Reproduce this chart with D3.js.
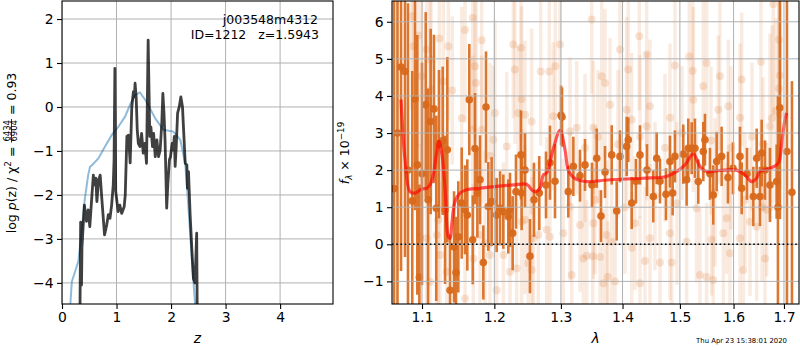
<!DOCTYPE html>
<html>
<head>
<meta charset="utf-8">
<script src="https://cdn.jsdelivr.net/npm/d3@7"></script>
<style>
body { margin: 0; background: #fff; }
svg { font-family: "DejaVu Sans", sans-serif; }
</style>
</head>
<body>
<script>
// ---- left panel: log p(z) ----
var pzZ   = [0.330,0.342,0.358,0.366,0.41,0.45,0.48,0.51,0.545,0.575,0.59,0.62,0.64,0.67,0.70,0.73,0.78,0.82,0.85,0.88,0.91,0.94,0.955,0.97,0.985,1.03,1.06,1.095,1.14,1.16,1.19,1.22,1.25,1.28,1.31,1.33,1.34,1.36,1.38,1.40,1.43,1.46,1.49,1.52,1.55,1.58,1.61,1.63,1.66,1.68,1.71,1.74,1.77,1.80,1.83,1.85,1.87,1.89,1.92,1.94,1.97,1.99,2.02,2.04,2.06,2.075,2.095,2.12,2.15,2.18,2.21,2.23,2.26,2.29,2.30,2.32,2.35,2.38,2.41,2.44,2.47,2.48];
var pzLog = [-4.6,-2.62,-4.05,-3.2,-2.23,-2.6,-2.34,-2.72,-2.08,-1.55,-1.77,-1.62,-2.15,-1.66,-1.55,-2.08,-2.91,-2.68,-2.45,-2.53,-2.23,-1.77,-1.2,0.88,-1.92,-2.38,-2.23,-2.42,-2.27,-2.0,-0.67,-0.64,-1.27,0.0,0.35,0.23,0.54,0.23,-0.52,-0.83,-0.9,-0.6,-1.05,-0.83,-1.28,1.52,-0.67,-0.45,-0.9,-0.6,-1.13,-0.75,-1.13,-0.98,-0.37,0.31,-0.14,-0.75,-2.30,-1.77,-1.2,-1.13,-0.83,-0.98,-0.67,-1.35,-0.9,-0.14,0.0,0.23,0.0,-0.52,-1.28,-1.32,-1.85,-1.47,-2.45,-3.2,-3.9,-4.0,-2.87,-4.7];
var priorZ   = [0.147,0.18,0.24,0.30,0.36,0.42,0.48,0.514,0.545,0.667,0.789,0.911,1.034,1.156,1.248,1.339,1.43,1.55,1.71,1.86,2.04,2.17,2.26,2.32,2.38,2.44,2.45];
var priorLog = [-4.6,-3.97,-3.74,-3.51,-2.83,-2.08,-1.55,-1.36,-1.33,-1.17,-0.9,-0.64,-0.45,-0.22,0.05,0.27,0.33,0.12,-0.26,-0.52,-0.56,-0.75,-1.28,-2.30,-3.44,-4.46,-4.7];
var zTicks = [0, 1, 2, 3, 4];
var pTicks = [-4, -3, -2, -1, 0, 1, 2];
var objName = "j003548m4312";
var objInfo = "ID=1212   z=1.5943";

// ---- right panel: spectrum ----
var specLam  = [1.0636,1.068,1.0726,1.0777,1.0816,1.0872,1.0908,1.0938,1.0965,1.1,1.1049,1.108,1.1115,1.1159,1.119,1.1227,1.1277,1.1309,1.134,1.1377,1.1432,1.1459,1.1491,1.1538,1.1584,1.1616,1.1644,1.1692,1.1724,1.1757,1.1795,1.1842,1.188,1.1913,1.1961,1.2033,1.2082,1.213,1.2203,1.2228,1.2267,1.2316,1.239,1.24,1.245,1.2525,1.2586,1.2666,1.2769,1.283,1.2908,1.3002,1.3017,1.3116,1.3196,1.3302,1.3382,1.3495,1.3572,1.3642,1.3708,1.3819,1.3902,1.3957,1.407,1.4098,1.4155,1.4228,1.4297,1.4418,1.4527,1.4587,1.4645,1.4751,1.4822,1.487,1.4911,1.5061,1.5122,1.5152,1.5214,1.5274,1.5335,1.5428,1.5459,1.5552,1.5614,1.5678,1.5772,1.5893,1.5989,1.6124,1.6157,1.626,1.6385,1.6451,1.6516,1.655,1.6616,1.6716,1.6851,1.6877,1.6918,1.7061,1.7164];
var specFlux = [1.5,3.0,4.78,4.66,2.0,1.17,3.92,2.14,-0.89,1.9,3.76,1.2,3.31,3.65,0.97,2.7,2.79,0.93,2.55,-1.24,-0.07,-0.76,0.2,1.11,0.93,0.79,3.9,0.12,2.58,1.38,1.74,-0.49,3.7,1.02,1.15,0.79,0.97,0.88,0.75,0.93,0.3,1.42,2.41,1.38,2.0,-0.32,1.2,1.38,1.6,2.2,1.7,3.48,3.43,1.42,2.1,1.85,2.14,1.6,2.32,0.76,1.95,2.41,0.9,2.37,2.64,2.82,1.11,1.7,2.41,2.0,1.29,2.32,1.7,1.35,2.23,1.38,2.37,2.43,1.74,2.59,2.59,2.59,1.69,2.5,2.82,1.9,1.33,2.23,2.37,1.8,2.05,2.37,1.51,1.9,1.29,2.32,1.29,2.46,2.0,1.6,1.69,1.0,3.68,2.5,1.4];
var specErr  = [6,6,5.5,5,4.5,3.5,3,3.5,2.5,3,2.5,3,2.5,2,2.5,2,2,2,2.5,1.5,1.5,1.5,1.5,1.5,1.2,1.5,1.5,1.2,1.5,1.2,1.2,1,1.5,1.2,1.2,1,1,1,1,1,1,1,1.2,1,1,1,1,1,0.9,1,1,0.8,0.8,0.7,0.8,0.7,0.7,0.6,0.8,0.7,0.7,0.8,0.8,0.7,0.8,0.6,0.7,0.6,0.8,0.7,0.7,0.7,0.6,0.7,0.7,0.6,0.7,0.8,0.7,0.8,0.7,0.8,0.6,0.8,0.7,0.7,0.8,0.8,0.8,0.7,0.7,0.8,0.7,0.7,0.8,0.8,0.8,0.9,0.8,1,1,3,3,6,3];

var bgLam  = [1.0866,1.0951,1.0886,1.1062,1.0996,1.1106,1.1231,1.1354,1.1286,1.112,1.1408,1.1584,1.1692,1.1724,1.1738,1.1538,1.1692,1.1819,1.1819,1.2009,1.1985,1.2276,1.239,1.2301,1.24,1.2351,1.245,1.255,1.2688,1.282,1.2881,1.2913,1.2986,1.2179,1.1937,
              1.349,1.3653,1.3708,1.3791,1.3957,1.4097,1.4285,1.4412,1.447,1.4911,1.5171,1.5232,1.549,1.5428,1.574,1.6157,1.6536,1.6918,1.6898,1.6782,1.325,1.3143,1.407,1.4155,1.4822,1.5244,1.5708,1.5899,1.6124,1.6716,1.6918,1.3517,1.4412,
              1.317,1.3355,1.3409,1.3507,1.3626,1.3681,1.3753,1.3874,1.4297,1.4383,1.4645,1.4852,1.5366,1.549,1.5614,1.5931,1.6188,1.6616,1.3819,1.4155,1.447,1.4822,1.5122,1.5583,1.5803,1.6124,1.6451,1.3143,1.3302,1.3517,1.3736,1.4211,1.5305,1.5867,1.6319,1.665,
              1.0974,1.1062,1.1217,1.1241,1.1331,1.1584,1.17,1.1866,1.1937,1.2033,1.2131,1.2228,1.2326,1.24,1.245,1.25,1.2551,1.2576,1.2651,1.2779,1.283,1.1106,1.1195,1.1795,1.3037,
              1.3382,1.3593,1.3924,1.4297,1.4733,1.5037,1.5571,1.595,1.6358,1.6576,1.6756,1.6837,1.6898,1.3544,1.4041,1.4557,1.4947,1.5646,1.6221,1.6556];
var bgFlux = [6.15,5.63,5.34,5.25,4.53,4.98,5.55,5.34,4.39,4.17,4.15,5.78,6.1,4.8,4.35,3.4,3.09,5.5,3.09,3.54,2.82,5.39,5.3,4.71,3.92,3.54,3.49,3.31,4.66,4.66,3.45,4.8,5.39,2.64,2.39,
              6.06,4.53,4.35,3.76,5.25,4.71,5.61,5.12,3.72,4.82,5.07,4.68,4.89,4.26,4.53,4.44,4.92,4.55,5.52,6.47,3.14,3.04,3.63,3.36,3.41,3.9,3.63,3.72,3.41,3.18,3.49,3.14,3.18,
              -0.83,-0.38,-0.31,-0.32,-0.34,-1.05,-0.88,-1.0,-1.05,-0.45,-0.49,-0.49,-0.83,-0.88,-0.96,-0.24,-0.69,-0.38,0.07,-0.09,0.16,0.3,0.07,0.12,0.3,0.16,0.47,1.02,0.52,0.57,0.25,0.57,0.97,0.7,0.61,0.93,
              0.2,0.16,0.66,-0.29,-0.74,-1.46,-0.38,0.03,-0.29,-1.24,-0.29,-0.74,-0.65,0.61,0.66,-0.51,-0.69,0.16,0.25,0.39,0.2,-1.01,0.25,0.25,0.3,
              2.6,2.9,2.7,2.9,2.6,3.0,2.8,2.6,2.9,2.7,3.4,3.6,4.2,1.2,1.0,1.3,1.1,1.4,1.2,1.0];
var bgErr  = [2.5,3,2,2.5,3,2,2.5,2,2.5,3,2,2.5,3,2,2.5,3,2,2.5,2,2.5,2,2,2.5,2,2.5,1.8,2,2.5,2,2.5,2,2.5,2,2,2.5,
              2,2.5,2,1.8,2.5,2,2,2.5,1.8,2,2.5,2,2,2.5,2,1.8,2.5,2,2.5,3,1.8,2,2.5,1.8,2,2.5,2,1.8,2,2.5,2,1.8,2,
              1.8,2,1.5,2,1.8,2,1.5,2,1.8,2,1.5,2,1.8,2,1.5,2,1.8,2,2,1.5,2,1.8,2,1.5,2,1.8,2,2,1.8,1.5,2,1.8,2,1.5,2,1.8,
              2.5,2,2.5,2,2,2.5,2,2.5,2,2,2.5,2,2,2.5,2,2,2.5,2,2,2.5,2,2.5,2,2,2,
              2,1.8,2,2.2,2,1.8,2,2.2,2,1.8,2.5,2.5,3,2,1.8,2,2.2,2,1.8,2];

var modelLam  = [1.0726,1.0777,1.0842,1.0908,1.0996,1.1062,1.1106,1.115,1.119,1.1227,1.1268,1.1309,1.1354,1.1377,1.14,1.1445,1.1514,1.1607,1.1795,1.2034,1.2276,1.2476,1.2551,1.2601,1.2677,1.2728,1.2779,1.2877,1.2986,1.3064,1.3116,1.3196,1.3302,1.3409,1.3791,1.4354,1.4763,1.4941,1.5092,1.5244,1.5366,1.549,1.574,1.606,1.6221,1.635,1.6449,1.6516,1.6716,1.6884,1.6953,1.702,1.7055];
var modelFlux = [3.9,2.3,1.42,1.38,1.49,1.51,1.6,1.87,2.4,2.78,2.4,1.51,0.2,0.16,0.52,1.15,1.38,1.47,1.51,1.56,1.6,1.62,1.47,1.42,1.51,1.87,1.92,2.55,3.07,2.55,2.0,1.8,1.72,1.69,1.74,1.78,1.83,1.96,2.14,2.44,2.1,1.96,1.99,2.0,1.87,1.69,1.78,1.96,2.05,2.19,2.73,3.36,3.54];
var lamTicks = [1.1, 1.2, 1.3, 1.4, 1.5, 1.6, 1.7];
var fTicks = [-1, 0, 1, 2, 3, 4, 5, 6];
var stamp = "Thu Apr 23 15:38:01 2020";

var tickFont = 13.9;
var gridColor = "#b0b0b0";
var orange = "#d8681a";

var svg = d3.select("body").append("svg")
    .attr("width", 800)
    .attr("height", 350);

// ======== left panel ========
var L = {left: 62, right: 333, top: 1, bottom: 304};
var x1 = d3.scaleLinear().domain([0, 4.97]).range([L.left, L.right]);
var y1 = d3.scaleLinear().domain([-4.48, 2.41]).range([L.bottom, L.top]);

svg.append("clipPath").attr("id", "clipL")
    .append("rect").attr("x", L.left).attr("y", L.top)
    .attr("width", L.right - L.left).attr("height", L.bottom - L.top);

var gl = svg.append("g").attr("clip-path", "url(#clipL)");

gl.selectAll(".vg").data(zTicks).enter().append("line")
    .attr("x1", d => x1(d)).attr("x2", d => x1(d))
    .attr("y1", L.top).attr("y2", L.bottom)
    .attr("stroke", gridColor).attr("stroke-width", 1);
gl.selectAll(".hg").data(pTicks).enter().append("line")
    .attr("x1", L.left).attr("x2", L.right)
    .attr("y1", d => y1(d)).attr("y2", d => y1(d))
    .attr("stroke", gridColor).attr("stroke-width", 1);

var lineL = d3.line().x(d => x1(d[0])).y(d => y1(d[1]));

gl.append("path")
    .datum(d3.zip(priorZ, priorLog))
    .attr("d", lineL)
    .attr("fill", "none")
    .attr("stroke", "#1f77b4").attr("stroke-opacity", 0.5)
    .attr("stroke-width", 2);

gl.append("path")
    .datum(d3.zip(pzZ, pzLog))
    .attr("d", lineL)
    .attr("fill", "none")
    .attr("stroke", "#000").attr("stroke-opacity", 0.75)
    .attr("stroke-width", 2.8)
    .attr("stroke-linejoin", "round");

svg.append("g").attr("transform", "translate(0," + L.bottom + ")")
    .call(d3.axisBottom(x1).tickValues(zTicks).tickSize(5).tickPadding(3.5).tickFormat(d3.format("d")));
svg.append("g").attr("transform", "translate(" + L.left + ",0)")
    .call(d3.axisLeft(y1).tickValues(pTicks).tickSize(5).tickPadding(3.5).tickFormat(d3.format("d")));

svg.append("rect")
    .attr("x", L.left).attr("y", L.top)
    .attr("width", L.right - L.left).attr("height", L.bottom - L.top)
    .attr("fill", "none").attr("stroke", "#000").attr("stroke-width", 1.1);

svg.append("text").attr("x", 318).attr("y", 24)
    .attr("text-anchor", "end").style("font-size", "12.5px").text(objName);
svg.append("text").attr("x", 319).attr("y", 39)
    .attr("text-anchor", "end").style("font-size", "12.5px")
    .style("white-space", "pre").attr("xml:space", "preserve").text(objInfo);

svg.append("text").attr("x", (L.left + L.right) / 2).attr("y", 343)
    .attr("text-anchor", "middle").style("font-size", "13.9px")
    .style("font-style", "italic").text("z");

// ======== right panel ========
var R = {left: 392, right: 799, top: 1, bottom: 304};
var x2 = d3.scaleLog().domain([1.061, 1.731]).range([R.left, R.right]);
var y2 = d3.scaleLinear().domain([-1.61, 6.56]).range([R.bottom, R.top]);

svg.append("clipPath").attr("id", "clipR")
    .append("rect").attr("x", R.left).attr("y", R.top)
    .attr("width", R.right - R.left).attr("height", R.bottom - R.top);

var gr = svg.append("g").attr("clip-path", "url(#clipR)");

var bg = d3.range(bgLam.length).map(i => ({l: bgLam[i], f: bgFlux[i], e: bgErr[i]}));
var spec = d3.range(specLam.length).map(i => ({l: specLam[i], f: specFlux[i], e: specErr[i]}));

gr.append("g").selectAll("line").data(bg).enter().append("line")
    .attr("x1", d => x2(d.l)).attr("x2", d => x2(d.l))
    .attr("y1", d => y2(d.f - d.e)).attr("y2", d => y2(d.f + d.e))
    .attr("stroke", orange).attr("stroke-opacity", 0.13).attr("stroke-width", 3.5);
gr.append("g").selectAll("circle").data(bg).enter().append("circle")
    .attr("cx", d => x2(d.l)).attr("cy", d => y2(d.f)).attr("r", 4)
    .attr("fill", orange).attr("fill-opacity", 0.18);

gr.append("g").selectAll("line").data(spec).enter().append("line")
    .attr("x1", d => x2(d.l)).attr("x2", d => x2(d.l))
    .attr("y1", d => y2(d.f - d.e)).attr("y2", d => y2(d.f + d.e))
    .attr("stroke", orange).attr("stroke-opacity", 0.9).attr("stroke-width", 2.6);
gr.append("g").selectAll("circle").data(spec).enter().append("circle")
    .attr("cx", d => x2(d.l)).attr("cy", d => y2(d.f)).attr("r", 3.8)
    .attr("fill", orange).attr("fill-opacity", 0.95);

gr.append("path")
    .datum(d3.zip(modelLam, modelFlux))
    .attr("d", d3.line().curve(d3.curveCatmullRom).x(d => x2(d[0])).y(d => y2(d[1])))
    .attr("fill", "none")
    .attr("stroke", "red").attr("stroke-opacity", 0.65)
    .attr("stroke-width", 3.2);

gr.selectAll(".vg").data(lamTicks).enter().append("line")
    .attr("x1", d => x2(d)).attr("x2", d => x2(d))
    .attr("y1", R.top).attr("y2", R.bottom)
    .attr("stroke", gridColor).attr("stroke-width", 1);
gr.selectAll(".hg").data(fTicks).enter().append("line")
    .attr("x1", R.left).attr("x2", R.right)
    .attr("y1", d => y2(d)).attr("y2", d => y2(d))
    .attr("stroke", gridColor).attr("stroke-width", 1);

gr.append("line")
    .attr("x1", R.left).attr("x2", R.right)
    .attr("y1", y2(0)).attr("y2", y2(0))
    .attr("stroke", "#000").attr("stroke-width", 1.6)
    .attr("stroke-dasharray", "1.6,2.6");

svg.append("g").attr("transform", "translate(0," + R.bottom + ")")
    .call(d3.axisBottom(x2).tickValues(lamTicks).tickSize(5).tickPadding(3.5).tickFormat(d3.format(".1f")));
svg.append("g").attr("transform", "translate(" + R.left + ",0)")
    .call(d3.axisLeft(y2).tickValues(fTicks).tickSize(5).tickPadding(3.5).tickFormat(d3.format("d")));

svg.append("rect")
    .attr("x", R.left).attr("y", R.top)
    .attr("width", R.right - R.left).attr("height", R.bottom - R.top)
    .attr("fill", "none").attr("stroke", "#000").attr("stroke-width", 1.1);

svg.append("text").attr("x", (R.left + R.right) / 2).attr("y", 343)
    .attr("text-anchor", "middle").style("font-size", "13.9px")
    .style("font-style", "italic").text("λ");

svg.append("text").attr("x", 787).attr("y", 343)
    .attr("text-anchor", "end").style("font-size", "6.9px").text(stamp);

// axis styling
svg.selectAll(".domain").remove();
svg.selectAll(".tick text").style("font-size", tickFont + "px").attr("fill", "#000")
    .style("font-family", "DejaVu Sans");
svg.selectAll(".tick line").attr("stroke", "#000").attr("stroke-width", 1.1);

// ---- rotated labels built from pieces ----
function pieces(g, segs) {
    var x = 0;
    segs.forEach(function(s) {
        if (s.frac) {
            var a = g.append("text").attr("y", s.num).style("font-size", s.size + "px").text(s.frac[0]);
            var b = g.append("text").attr("y", s.den).style("font-size", s.size + "px").text(s.frac[1]);
            var w = Math.max(a.node().getComputedTextLength(), b.node().getComputedTextLength()) + 2;
            a.attr("x", x + 1 + (w - 2 - a.node().getComputedTextLength()) / 2);
            b.attr("x", x + 1 + (w - 2 - b.node().getComputedTextLength()) / 2);
            g.append("line").attr("x1", x).attr("x2", x + w)
                .attr("y1", s.bar).attr("y2", s.bar).attr("stroke", "#000").attr("stroke-width", 0.8);
            x += w;
        } else {
            var t = g.append("text").attr("x", x).attr("y", s.dy || 0)
                .style("font-size", s.size + "px")
                .style("font-style", s.it ? "italic" : null)
                .attr("xml:space", "preserve")
                .text(s.t);
            x += t.node().getComputedTextLength();
        }
    });
    return x;
}

var yl = svg.append("g").attr("transform", "translate(16,153) rotate(-90)");
var ylIn = yl.append("g");
var wL = pieces(ylIn, [
    {t: "log ", size: 12.5},
    {t: "p", size: 12.5, it: true},
    {t: "(z) / χ", size: 12.5},
    {t: "2", size: 8.8, dy: -5},
    {t: " = ", size: 12.5},
    {frac: ["6434", "6904"], size: 8.5, num: -6.5, den: 1, bar: -4.5},
    {t: " = 0.93", size: 12.5}
]);
ylIn.attr("transform", "translate(" + (-wL / 2) + ",0)");

var yr = svg.append("g").attr("transform", "translate(349,153) rotate(-90)");
var yrIn = yr.append("g");
var wR = pieces(yrIn, [
    {t: "f", size: 12.5, it: true},
    {t: "λ", size: 8.8, it: true, dy: 2.5},
    {t: " × 10", size: 12.5},
    {t: "−19", size: 8.8, dy: -5}
]);
yrIn.attr("transform", "translate(" + (-wR / 2) + ",0)");
</script>
</body>
</html>
